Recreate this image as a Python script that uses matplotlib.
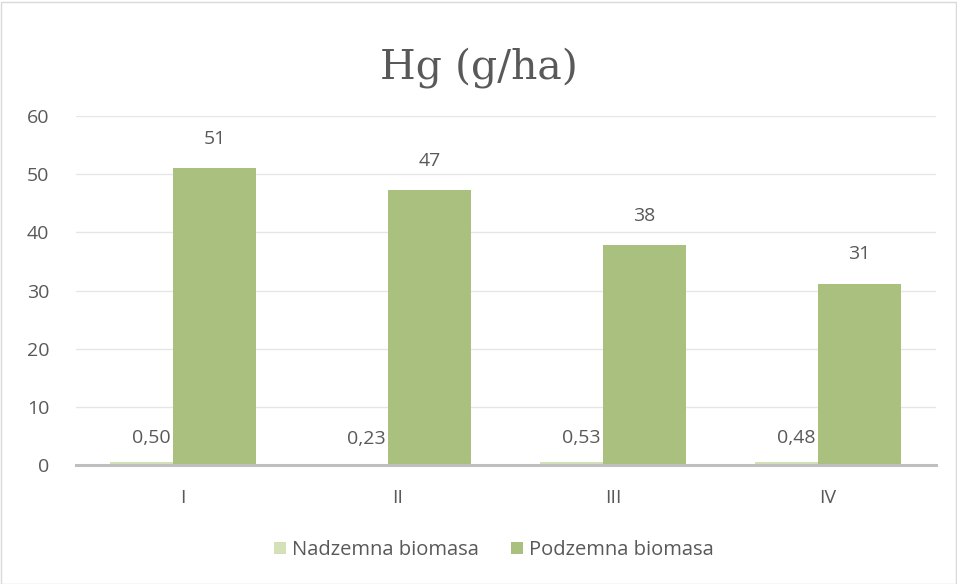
import matplotlib.pyplot as plt
import numpy as np
from matplotlib.patches import Rectangle

# data
categories = ['I', 'II', 'III', 'IV']
nadzemna = [0.50, 0.23, 0.53, 0.48]
podzemna = [51, 47.3, 37.8, 31.2]
nadzemna_labels = ['0,50', '0,23', '0,53', '0,48']
podzemna_labels = ['51', '47', '38', '31']

TEXT = '#595959'
C_NAD = '#D3E0B8'
C_POD = '#A9C07F'
FS = 14

plt.rcParams['font.family'] = ['Open Sans', 'DejaVu Sans']

fig = plt.figure(figsize=(9.57, 5.84), dpi=100)
ax = fig.add_axes([75.5 / 957, 1 - 465 / 584, 860 / 957, 349 / 584])

x = np.arange(len(categories))
w = 0.39
off = 0.1465
b1 = ax.bar(x - off, nadzemna, w, color=C_NAD, label='Nadzemna biomasa', zorder=2)
b2 = ax.bar(x + off, podzemna, w, color=C_POD, label='Podzemna biomasa', zorder=3)

for xi, v, t in zip(x, nadzemna, nadzemna_labels):
    ax.annotate(t, (xi - off, v), xytext=(0, 17.5), textcoords='offset points',
                ha='center', va='center', fontsize=FS, color=TEXT, zorder=5)
for xi, v, t in zip(x, podzemna, podzemna_labels):
    ax.annotate(t, (xi + off, v), xytext=(0, 21), textcoords='offset points',
                ha='center', va='center', fontsize=FS, color=TEXT, zorder=5)

ax.set_xlim(-0.5, len(categories) - 0.5)
ax.set_ylim(0, 60)
ax.set_yticks(range(0, 61, 10))
ax.set_xticks(x)
ax.set_xticklabels(categories)
ax.grid(axis='y', color='#E6E6E6', linewidth=1, zorder=0)
ax.set_axisbelow(True)
for s in ['top', 'right', 'left']:
    ax.spines[s].set_visible(False)
ax.spines['bottom'].set_color('#BFBFBF')
ax.spines['bottom'].set_linewidth(2.2)
ax.spines['bottom'].set_zorder(4)
ax.tick_params(axis='y', length=0, labelsize=FS, labelcolor=TEXT, pad=19)
ax.tick_params(axis='x', length=0, labelsize=FS, labelcolor=TEXT, pad=17)

fig.text(0.5, 1 - 68 / 584, 'Hg (g/ha)', ha='center', va='center', fontsize=29.5,
         color=TEXT, family=['DejaVu Serif'])

fig.legend(handles=[b1, b2], loc='center', bbox_to_anchor=(494 / 957, 1 - 550 / 584),
           ncol=2, frameon=False, fontsize=14.5, labelcolor=TEXT,
           handlelength=0.6, handleheight=0.6, handletextpad=0.3, columnspacing=1.6)

fig.patches.append(Rectangle((0.5 / 957, 0.5 / 584), 955 / 957, 582 / 584, transform=fig.transFigure,
                             fill=False, edgecolor='#D9D9D9', linewidth=1))

plt.savefig('out.png', dpi=100)
plt.close()
